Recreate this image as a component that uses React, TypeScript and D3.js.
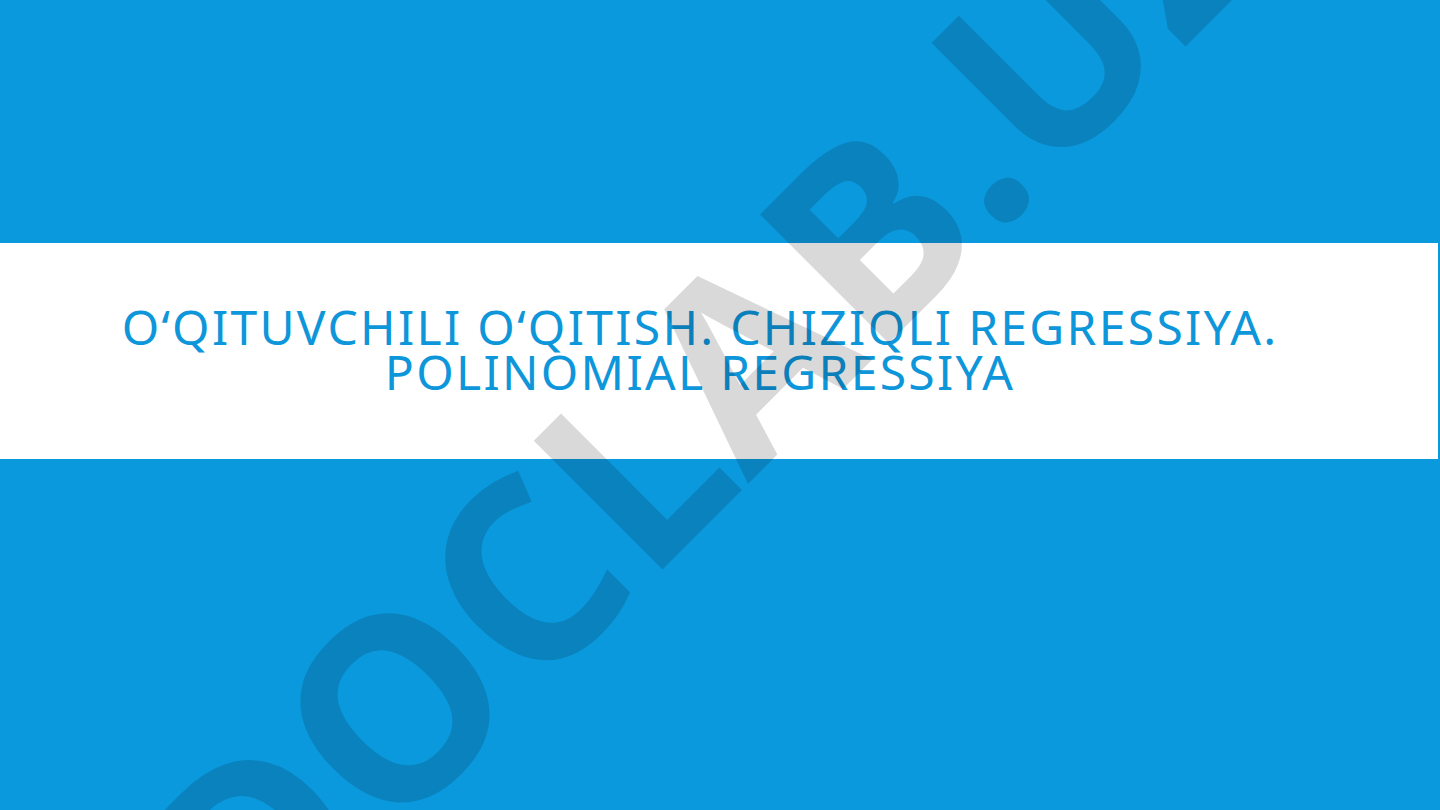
import { useEffect, useRef } from 'react';
import * as d3 from 'd3';

// slide content
const titleLines = ['O‘QITUVCHILI O‘QITISH. CHIZIQLI REGRESSIYA.', 'POLINOMIAL REGRESSIYA'];
const watermarkText = ['DOCLAB.UZ'];

const W = 1440;
const H = 810;

export default function App() {
  const svgRef = useRef<SVGSVGElement>(null);

  useEffect(() => {
    if (!svgRef.current) return;
    const svg = d3.select(svgRef.current);
    svg.selectAll('*').remove();

    // background
    svg.append('rect')
      .attr('width', W).attr('height', H)
      .attr('fill', '#0b99de');

    // white title band
    const bandY = d3.scaleLinear().domain([0, 1]).range([243, 459]);
    svg.append('rect')
      .attr('x', 0).attr('y', bandY(0))
      .attr('width', 1438).attr('height', bandY(1) - bandY(0))
      .attr('fill', '#ffffff');

    // title lines
    const lineY = d3.scaleLinear().domain([0, 1]).range([345, 390]);
    svg.selectAll('.title')
      .data(titleLines)
      .enter()
      .append('text')
      .attr('class', 'title')
      .attr('x', 700)
      .attr('y', (_, i) => lineY(i))
      .attr('text-anchor', 'middle')
      .style('font-family', '"Noto Sans", "Open Sans", sans-serif')
      .style('font-size', '48px')
      .style('letter-spacing', '2.3px')
      .style('fill', '#0e96da')
      .text(d => d);

    // diagonal watermark
    svg.selectAll('.wm')
      .data(watermarkText)
      .enter()
      .append('text')
      .attr('class', 'wm')
      .attr('transform', 'translate(770,462) rotate(-45)')
      .attr('text-anchor', 'middle')
      .style('font-family', '"Open Sans", "Noto Sans", sans-serif')
      .style('font-weight', '700')
      .style('font-size', '255px')
      .style('fill', '#000')
      .style('fill-opacity', 0.15)
      .text(d => d);
  }, []);

  return (
    <div style={{ position: 'fixed', left: 0, top: 0, width: W, height: H, overflow: 'hidden' }}>
      <svg ref={svgRef} width={W} height={H} style={{ display: 'block' }}></svg>
    </div>
  );
}
